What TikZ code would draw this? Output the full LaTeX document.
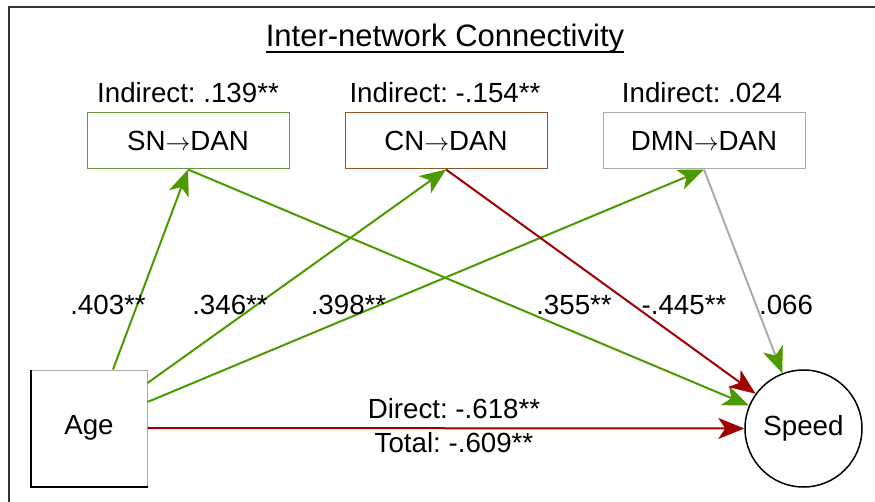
\documentclass[tikz,border=0pt]{standalone}
\usepackage{fontspec}
\setmainfont{Liberation Sans}
\usetikzlibrary{arrows.meta,calc}
\definecolor{grn}{RGB}{76,153,0}
\definecolor{dred}{RGB}{160,0,0}
\definecolor{gry}{RGB}{172,172,172}
\definecolor{snb}{RGB}{105,150,65}
\definecolor{cnb}{RGB}{140,85,45}
\newcommand\labfont{\fontsize{27.7}{30}\selectfont\frenchspacing}
\newcommand\ttlfont{\fontsize{31}{34}\selectfont}
\newcommand\toarr{\(\rightarrow\)}
\begin{document}
\begin{tikzpicture}[x=1pt,y=-1pt,
  netbox/.style={draw, fill=white, line width=1pt, minimum width=202pt, minimum height=56pt, inner sep=0pt, font=\labfont},
  lbl/.style={anchor=base, inner sep=0pt, font=\labfont},
  tipg/.style={-{Stealth[length=26pt,width=21pt,inset=7pt,color=grn]}},
  tipr/.style={-{Stealth[length=26pt,width=21pt,inset=7pt,color=dred]}},
  greenarrow/.style={draw=grn, line width=2pt, tipg},
  redarrow/.style={draw=dred, line width=2pt, tipr}
]
\useasboundingbox (0,0) rectangle (875,502);
\fill[white] (0,0) rectangle (875,502);
\draw[line width=2pt, black!80] (9,502) -- (9,7) -- (875,7);

% title
\node[anchor=base, inner sep=0pt, font=\ttlfont] (title) at (445,46.7) {Inter-network Connectivity};
\draw[line width=2.4pt] ($(title.base west)+(0,5.6)$) -- ($(title.base east)+(0,5.6)$);

% mediator boxes
\node[netbox, draw=snb] (sn) at (188,141) {SN\toarr DAN};
\node[netbox, draw=cnb] (cn) at (446,141) {CN\toarr DAN};
\node[netbox, draw=gry] (dmn) at (704,141) {DMN\toarr DAN};

\node[lbl] (isn) at (188,103) {Indirect: .139**};
\node[lbl] (icn) at (445,103) {Indirect: -.154**};
\node[lbl] (idmn) at (702,103) {Indirect: .024};

% age and speed
\node[draw=gry, fill=white, line width=1pt, minimum size=116pt, inner sep=0pt, font=\labfont] (age) at (89,428) {Age};
\draw[line width=2pt] (age.north west) -- (age.south west) -- (age.south east);
\node[circle, draw, fill=white, line width=1.5pt, minimum size=117pt, inner sep=0pt, font=\labfont] (speed) at (803.5,428.5) {Speed};

% connectors
\draw[greenarrow] ([xshift=24pt]age.north) -- (sn.south);
\draw[greenarrow] ([yshift=45pt]age.east) -- (cn.south);
\draw[greenarrow] ([yshift=26pt]age.east) -- (dmn.south);
\draw[greenarrow] (sn.south) -- (speed);
\draw[redarrow] (cn.south) -- (speed);
\draw[draw=gry, line width=2pt, tipg] (dmn.south) -- (speed);
\draw[redarrow] (age.east) -- (speed.west);

% path labels
\node[lbl] (l1) at (108,315) {.403**};
\node[lbl] (l2) at (230,315) {.346**};
\node[lbl] (l3) at (348.5,315) {.398**};
\node[lbl] (l4) at (574,315) {.355**};
\node[lbl] (l5) at (684,315) {-.445**};
\node[lbl] (l6) at (786,315) {.066};
\node[lbl] (dir) at (454,418) {Direct: -.618**};
\node[lbl] (tot) at (454,452) {Total: -.609**};
\end{tikzpicture}
\end{document}
